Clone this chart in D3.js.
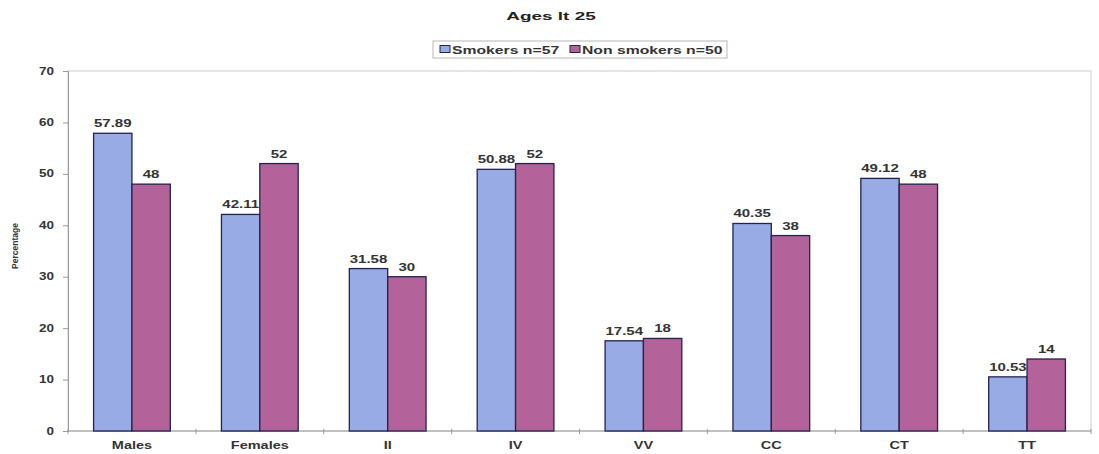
<!DOCTYPE html>
<html>
<head>
<meta charset="utf-8">
<script src="https://cdn.jsdelivr.net/npm/d3@7"></script>
<style>
  html, body { margin: 0; padding: 0; background: #fff; }
  svg { display: block; font-family: "Liberation Sans", Arial, sans-serif; }
</style>
</head>
<body>
<svg id="chart" width="1099" height="454"></svg>
<script>
// Genotype / sex distribution for ages under 25, smokers vs non smokers
const categories = ["Males", "Females", "II", "IV", "VV", "CC", "CT", "TT"];
const seriesNames = ["Smokers n=57", "Non smokers n=50"];
const smokers = [57.89, 42.11, 31.58, 50.88, 17.54, 40.35, 49.12, 10.53];
const nonSmokers = [48, 52, 30, 52, 18, 38, 48, 14];
const yTicks = [0, 10, 20, 30, 40, 50, 60, 70];
const seriesColors = ["#98abe4", "#b3639a"];
const series = [smokers, nonSmokers];

const svg = d3.select("#chart");
const plot = { left: 68, right: 1091, top: 71, bottom: 431 };
const SX = 1.45;          // wide lettering used throughout the chart
const ink = "#333";

const x0 = d3.scaleBand().domain(categories)
  .range([plot.left, plot.right]).paddingInner(0.4).paddingOuter(0.2);
const x1 = d3.scaleBand().domain([0, 1]).range([0, x0.bandwidth()]);
const y = d3.scaleLinear().domain([0, 70]).range([plot.bottom, plot.top]);

// text placed with a horizontal stretch
function wideText(parent, x, yPos, str, opts) {
  const o = Object.assign({ size: 10.5, anchor: "middle", sx: SX, weight: "bold", fill: ink }, opts || {});
  return parent.append("text")
    .attr("transform", `translate(${x},${yPos}) scale(${o.sx},1)`)
    .attr("text-anchor", o.anchor)
    .attr("font-size", o.size).attr("font-weight", o.weight).attr("fill", o.fill)
    .text(str);
}

// plot area frame
svg.append("rect")
  .attr("x", plot.left).attr("y", plot.top)
  .attr("width", plot.right - plot.left).attr("height", plot.bottom - plot.top)
  .attr("fill", "none").attr("stroke", "#d6d6d6").attr("stroke-width", 1.2);

// y axis
const yAxis = svg.append("g")
  .attr("transform", `translate(${plot.left},0)`)
  .call(d3.axisLeft(y).tickValues(yTicks).tickSize(5).tickFormat(""));
yAxis.select(".domain").attr("stroke", "#9a9a9a");
yAxis.selectAll(".tick line").attr("stroke", "#9a9a9a");
yTicks.forEach(t => wideText(svg, 54, y(t) + 3.5, String(t), { anchor: "end", size: 10, sx: 1.35 }));

// x axis with ticks between categories
const step = x0.step();
const xAxisG = svg.append("g");
xAxisG.append("line")
  .attr("x1", plot.left).attr("x2", plot.right)
  .attr("y1", plot.bottom).attr("y2", plot.bottom)
  .attr("stroke", "#9a9a9a");
const boundaries = d3.range(categories.length + 1).map(i => plot.left + i * step);
xAxisG.selectAll(".xtick").data(boundaries).join("line")
  .attr("x1", d => d).attr("x2", d => d)
  .attr("y1", plot.bottom - 2).attr("y2", plot.bottom + 3)
  .attr("stroke", "#9a9a9a");
categories.forEach(c => wideText(xAxisG, x0(c) + x0.bandwidth() / 2, 449, c, { size: 10 }));

// bars, one series at a time so later bars sit over earlier labels
series.forEach((vals, k) => {
  const g = svg.append("g");
  g.selectAll("rect").data(categories.map((c, i) => ({ c, v: vals[i] }))).join("rect")
    .attr("x", d => x0(d.c) + x1(k))
    .attr("y", d => y(d.v))
    .attr("width", x1.bandwidth())
    .attr("height", d => y(0) - y(d.v))
    .attr("fill", seriesColors[k])
    .attr("stroke", "#23234f").attr("stroke-width", 1.3);
  categories.forEach((c, i) => {
    wideText(g, x0(c) + x1(k) + x1.bandwidth() / 2, y(vals[i]) - 6, String(vals[i]),
      { size: 10, sx: 1.5 });
  });
});

// y axis title
svg.append("text")
  .attr("transform", `translate(18,246) rotate(-90)`)
  .attr("text-anchor", "middle")
  .attr("font-size", 8.5).attr("font-weight", "bold").attr("fill", ink)
  .text("Percentage");

// title
wideText(svg, 551, 20, "Ages lt 25", { size: 11.5, sx: 1.65, fill: "#222" });

// legend
const lg = svg.append("g");
lg.append("rect")
  .attr("x", 433).attr("y", 41).attr("width", 294).attr("height", 17)
  .attr("fill", "#fff").attr("stroke", "#b8b8b8");
const legendItems = [{ x: 440, name: seriesNames[0], c: seriesColors[0] },
                     { x: 570, name: seriesNames[1], c: seriesColors[1] }];
legendItems.forEach(it => {
  lg.append("rect").attr("x", it.x).attr("y", 45.5).attr("width", 10).attr("height", 7)
    .attr("fill", it.c).attr("stroke", "#23234f").attr("stroke-width", 1);
  wideText(lg, it.x + 12, 53.5, it.name, { anchor: "start", size: 10.5, sx: 1.5 });
});
</script>
</body>
</html>
